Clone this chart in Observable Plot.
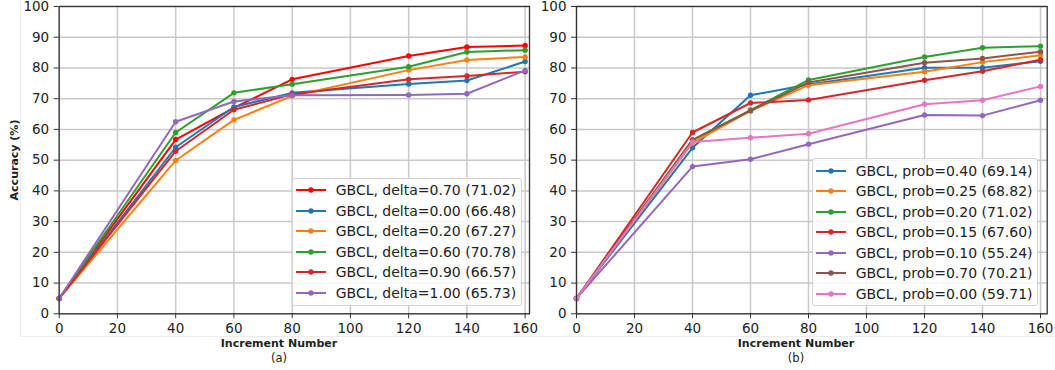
<!DOCTYPE html>
<html>
<head>
<meta charset="utf-8">
<script src="https://cdn.jsdelivr.net/npm/d3@7"></script>
<script src="https://cdn.jsdelivr.net/npm/@observablehq/plot@0.6"></script>
<style>
  html, body { margin: 0; padding: 0; background: #fff; }
  #wrap { position: relative; width: 1055px; height: 370px; background: #fff; font-family: "DejaVu Sans", sans-serif; color: #222; overflow: hidden; }
  .panel { position: absolute; top: 0; }
  .lbl { position: absolute; white-space: nowrap; transform: translate(-50%, -50%); }
  .legend { position: absolute; box-sizing: border-box; background: rgba(255,255,255,0.82); border: 1px solid #d4d4d4; border-radius: 3px; font-size: 14px; }
  .row { display: flex; align-items: center; height: 20.5px; white-space: nowrap; }
  .row svg { flex: none; margin-left: 3px; margin-right: 10px; }
</style>
</head>
<body>
<div id="wrap"></div>
<script>
// ---- data ----
const increments = [0, 40, 60, 80, 120, 140, 160];
const xTicks = [0, 20, 40, 60, 80, 100, 120, 140, 160];
const yTicks = [0, 10, 20, 30, 40, 50, 60, 70, 80, 90, 100];

// panel (a): delta
const deltaNames = ["GBCL, delta=0.70 (71.02)", "GBCL, delta=0.00 (66.48)", "GBCL, delta=0.20 (67.27)",
                    "GBCL, delta=0.60 (70.78)", "GBCL, delta=0.90 (66.57)", "GBCL, delta=1.00 (65.73)"];
const deltaColors = ["#ff0000", "#1f77b4", "#ff7f0e", "#2ca02c", "#d62728", "#9467bd"];
const delta070 = [5.0, 56.7, 67.0, 76.3, 83.9, 86.8, 87.3];
const delta000 = [5.0, 54.2, 67.3, 71.9, 74.8, 75.9, 82.1];
const delta020 = [5.0, 49.9, 63.1, 70.9, 79.3, 82.6, 83.6];
const delta060 = [5.0, 59.0, 71.9, 74.7, 80.4, 85.2, 85.8];
const delta090 = [5.0, 52.9, 66.4, 71.4, 76.3, 77.4, 78.8];
const delta100 = [5.0, 62.5, 69.1, 71.1, 71.2, 71.6, 79.2];
const deltaValues = [delta070, delta000, delta020, delta060, delta090, delta100];

// panel (b): prob
const probNames = ["GBCL, prob=0.40 (69.14)", "GBCL, prob=0.25 (68.82)", "GBCL, prob=0.20 (71.02)",
                   "GBCL, prob=0.15 (67.60)", "GBCL, prob=0.10 (55.24)", "GBCL, prob=0.70 (70.21)",
                   "GBCL, prob=0.00 (59.71)"];
const probColors = ["#1f77b4", "#ff7f0e", "#2ca02c", "#d62728", "#9467bd", "#8c564b", "#e377c2"];
const prob040 = [5.0, 54.0, 71.1, 74.6, 80.1, 80.1, 82.2];
const prob025 = [5.0, 55.6, 66.0, 74.4, 78.8, 81.9, 84.1];
const prob020 = [5.0, 56.5, 66.3, 76.1, 83.6, 86.6, 87.1];
const prob015 = [5.0, 59.0, 68.6, 69.6, 76.0, 78.9, 82.7];
const prob010 = [5.0, 47.9, 50.3, 55.2, 64.7, 64.5, 69.5];
const prob070 = [5.0, 56.6, 66.1, 75.3, 81.7, 83.1, 85.3];
const prob000 = [5.0, 55.9, 57.3, 58.6, 68.2, 69.5, 74.0];
const probValues = [prob040, prob025, prob020, prob015, prob010, prob070, prob000];

const yLabel = "Accuracy (%)";
const xLabel = "Increment Number";

// ---- drawing ----
const wrap = document.getElementById("wrap");

function panel(names, colors, values, opts) {
  const marks = [
    Plot.gridX(xTicks, {stroke: "#c9c9c9", strokeOpacity: 1, strokeWidth: 1.5}),
    Plot.gridY(yTicks, {stroke: "#c9c9c9", strokeOpacity: 1, strokeWidth: 1.5})
  ];
  names.forEach((name, k) => {
    const data = values[k].map((v, i) => ({x: increments[i], y: v}));
    marks.push(Plot.line(data, {x: "x", y: "y", stroke: colors[k], strokeWidth: 2}));
    marks.push(Plot.dot(data, {x: "x", y: "y", fill: colors[k], r: 2.7}));
  });
  marks.push(Plot.frame({stroke: "#333", strokeWidth: 1.3}));
  marks.push(Plot.axisX(xTicks, {tickSize: 5, tickPadding: 5, label: null, stroke: "#333"}));
  marks.push(Plot.axisY(yTicks, {tickSize: 5, tickPadding: 5, label: null, stroke: "#333"}));
  const svg = Plot.plot({
    width: opts.width, height: 330,
    marginTop: 6, marginBottom: 16.7, marginLeft: opts.marginLeft, marginRight: opts.marginRight,
    x: {domain: opts.xDomain},
    y: {domain: [0, 100]},
    style: {fontFamily: "DejaVu Sans", fontSize: "13.5px", color: "#222", background: "transparent", overflow: "visible"},
    marks
  });
  svg.classList.add("panel");
  svg.style.left = opts.left + "px";
  wrap.appendChild(svg);
}

function legend(names, colors, box) {
  const div = document.createElement("div");
  div.className = "legend";
  Object.assign(div.style, {left: box.left + "px", top: box.top + "px", width: box.width + "px", height: box.height + "px", paddingTop: box.padTop + "px"});
  names.forEach((name, k) => {
    const row = document.createElement("div");
    row.className = "row";
    row.innerHTML = `<svg width="30" height="10"><line x1="0" x2="30" y1="5" y2="5" stroke="${colors[k]}" stroke-width="2"/><circle cx="15" cy="5" r="2.7" fill="${colors[k]}"/></svg><span>${name}</span>`;
    div.appendChild(row);
  });
  wrap.appendChild(div);
}

function label(text, x, y, style) {
  const d = document.createElement("div");
  d.className = "lbl";
  d.textContent = text;
  d.style.left = x + "px";
  d.style.top = y + "px";
  Object.assign(d.style, style || {});
  wrap.appendChild(d);
}

// faint figure border lines
const vline = document.createElement("div");
Object.assign(vline.style, {position: "absolute", left: "20px", top: "0px", width: "1px", height: "336px", background: "#ececec"});
wrap.appendChild(vline);
const hline = document.createElement("div");
Object.assign(hline.style, {position: "absolute", left: "20px", top: "336px", width: "1035px", height: "1px", background: "#ececec"});
wrap.appendChild(hline);

panel(deltaNames, deltaColors, deltaValues, {left: 0, width: 535, marginLeft: 58.7, marginRight: 6, xDomain: [0, 161.5]});
panel(probNames, probColors, probValues, {left: 520, width: 535, marginLeft: 56, marginRight: 8.3, xDomain: [0, 162.3]});

legend(deltaNames, deltaColors, {left: 291.7, top: 178.3, width: 230.5, height: 127.7, padTop: 0.8});
legend(probNames, probColors, {left: 811.7, top: 157.7, width: 226.5, height: 148.5, padTop: 2});

label(yLabel, 14, 160, {transform: "translate(-50%, -50%) rotate(-90deg)", fontWeight: "bold", fontSize: "11px"});
label(xLabel, 279, 343, {fontWeight: "bold", fontSize: "11px"});
label("(a)", 279, 358, {fontSize: "11.5px"});
label(xLabel, 796, 343, {fontWeight: "bold", fontSize: "11px"});
label("(b)", 796, 358, {fontSize: "11.5px"});
</script>
</body>
</html>
